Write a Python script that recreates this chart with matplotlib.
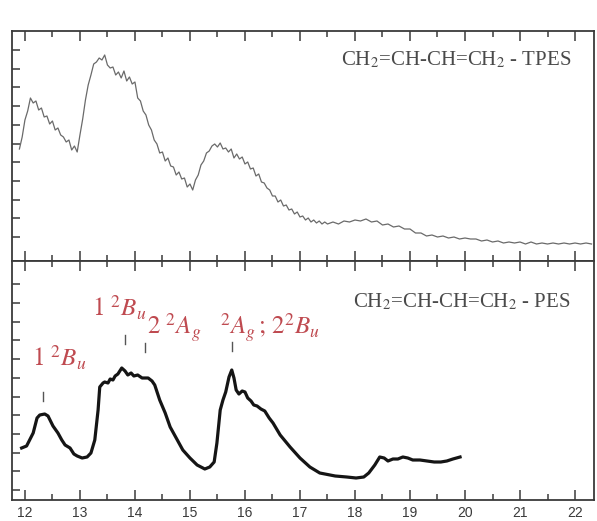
"""Butadiene TPES / PES comparison figure."""

import matplotlib.pyplot as plt
import numpy as np
from matplotlib.ticker import FixedLocator, MultipleLocator

plt.rcParams["mathtext.fontset"] = "stix"

# threshold photoelectron spectrum (arbitrary units)
tpes_ev = [
    11.90, 11.95, 12.00, 12.05, 12.10, 12.15, 12.20, 12.25, 12.30, 12.35,
    12.40, 12.45, 12.50, 12.55, 12.60, 12.65, 12.70, 12.75, 12.80, 12.85,
    12.90, 12.95, 13.00, 13.05, 13.10, 13.15, 13.20, 13.25, 13.30, 13.35,
    13.40, 13.45, 13.50, 13.55, 13.60, 13.65, 13.70, 13.75, 13.80, 13.85,
    13.90, 13.95, 14.00, 14.05, 14.10, 14.15, 14.20, 14.25, 14.30, 14.35,
    14.40, 14.45, 14.50, 14.55, 14.60, 14.65, 14.70, 14.75, 14.80, 14.85,
    14.90, 14.95, 15.00, 15.05, 15.10, 15.15, 15.20, 15.25, 15.30, 15.35,
    15.40, 15.45, 15.50, 15.55, 15.60, 15.65, 15.70, 15.75, 15.80, 15.85,
    15.90, 15.95, 16.00, 16.05, 16.10, 16.15, 16.20, 16.25, 16.30, 16.35,
    16.40, 16.45, 16.50, 16.55, 16.60, 16.65, 16.70, 16.75, 16.80, 16.85,
    16.90, 16.95, 17.00, 17.05, 17.10, 17.15, 17.20, 17.25, 17.30, 17.35,
    17.40, 17.45, 17.5, 17.6, 17.7, 17.8, 17.9,
    18.0, 18.1, 18.2, 18.3, 18.4, 18.5, 18.6, 18.7, 18.8, 18.9,
    19.0, 19.1, 19.2, 19.3, 19.4, 19.5, 19.6, 19.7, 19.8, 19.9,
    20.0, 20.1, 20.2, 20.3, 20.4, 20.5, 20.6, 20.7, 20.8, 20.9,
    21.0, 21.1, 21.2, 21.3, 21.4, 21.5, 21.6, 21.7, 21.8, 21.9,
    22.0, 22.1, 22.2, 22.3,
]
tpes_counts = [
    112, 124, 141, 150, 163, 158, 160, 151, 153, 144,
    145, 137, 140, 131, 133, 126, 124, 119, 121, 111,
    115, 109, 126, 142, 161, 176, 186, 197, 199, 203,
    201, 206, 196, 193, 194, 186, 189, 183, 190, 180,
    184, 177, 179, 163, 160, 150, 146, 136, 131, 121,
    117, 108, 109, 100, 103, 95, 94, 86, 89, 82,
    83, 74, 77, 71, 81, 86, 96, 100, 108, 110,
    115, 117, 114, 118, 112, 113, 109, 112, 103, 107,
    102, 104, 97, 99, 92, 93, 85, 87, 79, 78,
    73, 71, 65, 65, 59, 61, 55, 56, 51, 52,
    47, 49, 44, 45, 41, 43, 39, 41, 38, 40,
    37, 39, 37, 39, 37, 40, 39,
    41, 40, 42, 39, 40, 36, 37, 34, 35, 32,
    32, 28, 28, 25, 26, 24, 25, 23, 24, 22,
    23, 22, 22, 20, 21, 19, 20, 18, 19, 18,
    19, 17, 19, 17, 18, 17, 18, 17, 18, 17,
    18, 17, 18, 17,
]

# He I photoelectron spectrum (arbitrary units)
pes_ev = [
    11.94, 12.03, 12.15, 12.22, 12.27, 12.36, 12.42, 12.51, 12.60, 12.67,
    12.73, 12.82, 12.89, 12.95, 13.04, 13.13, 13.20, 13.27, 13.33, 13.36,
    13.42, 13.45, 13.51, 13.55, 13.60, 13.64, 13.69, 13.76, 13.82, 13.87,
    13.93, 13.98, 14.05, 14.13, 14.24, 14.31, 14.36, 14.45, 14.55, 14.64,
    14.75, 14.87, 15.00, 15.13, 15.27, 15.36, 15.44, 15.49, 15.55, 15.60,
    15.65, 15.71, 15.76, 15.80, 15.84, 15.89, 15.95, 16.00, 16.05, 16.11,
    16.16, 16.22, 16.29, 16.36, 16.44, 16.51, 16.64, 16.82, 17.00, 17.18,
    17.36, 17.64, 17.85, 18.02, 18.16, 18.25, 18.36, 18.45, 18.53, 18.60,
    18.69, 18.78, 18.87, 18.96, 19.05, 19.18, 19.31, 19.44, 19.56, 19.67,
    19.78, 19.91,
]
pes_counts = [
    52, 54, 67, 82, 85, 86, 84, 74, 67, 60,
    55, 52, 46, 44, 42, 43, 47, 60, 90, 113,
    117, 118, 117, 121, 120, 124, 126, 132, 129, 125,
    127, 124, 125, 122, 122, 119, 115, 100, 87, 73,
    62, 50, 42, 35, 31, 33, 38, 57, 90, 100,
    108, 123, 130, 122, 110, 106, 109, 108, 102, 99,
    95, 94, 91, 89, 82, 77, 65, 53, 42, 33,
    27, 24, 23, 22, 23, 27, 35, 43, 42, 39,
    41, 41, 43, 42, 40, 40, 39, 38, 38, 39,
    41, 43,
]

# ionic state assignments
state_labels = [r"$1\ ^2B_u$", r"$1\ ^2B_u$", r"$2\ ^2A_g$", r"$^2A_g\,;\,2^2B_u$"]
state_label_ev = [12.13, 13.22, 14.22, 15.54]
state_label_y = [133, 183, 165, 165]
state_tick_ev = [12.33, 13.82, 14.18, 15.76]
state_tick_y = [99, 156, 148, 149]

RED = "#bf4a50"
FRAME = "#3a3a3a"

fig = plt.figure(figsize=(5.97, 5.21), dpi=100)
ax_top = fig.add_axes([12 / 597, 1 - 261 / 521, 582 / 597, 230 / 521])
ax_bot = fig.add_axes([12 / 597, 1 - 500 / 521, 582 / 597, 239 / 521])

ax_top.plot(tpes_ev, tpes_counts, color="#6a6a6a", lw=0.9)
ax_bot.plot(pes_ev, pes_counts, color="#151515", lw=2.3, solid_joinstyle="round")

for ax in (ax_top, ax_bot):
    ax.set_xlim(11.765, 22.345)
    for side in ("left", "right", "top", "bottom"):
        ax.spines[side].set_color(FRAME)
        ax.spines[side].set_linewidth(1.3)
    ax.xaxis.set_major_locator(MultipleLocator(1))
    ax.xaxis.set_minor_locator(MultipleLocator(0.5))
    ax.tick_params(axis="both", which="both", direction="in", color=FRAME, width=1.1,
                   right=False, top=True)
    ax.tick_params(axis="x", which="major", length=7)
    ax.tick_params(axis="x", which="minor", length=4)
    ax.tick_params(axis="y", which="major", length=6, labelleft=False)

ax_top.set_ylim(0, 230)
ax_top.yaxis.set_major_locator(FixedLocator(np.arange(24, 215, 18.7)))
ax_top.tick_params(axis="x", labelbottom=False)

ax_bot.set_ylim(0, 239)
ax_bot.yaxis.set_major_locator(FixedLocator(np.arange(10, 220, 18.7)))
ax_bot.tick_params(axis="x", which="major", labelsize=10, labelcolor="#3a3a3a", pad=4.5)
ax_bot.set_xticklabels([f"{v:g}" for v in ax_bot.get_xticks()], fontfamily="Liberation Sans")

serif = {"family": "Liberation Serif", "size": 15, "color": "#4a4a4a"}
ax_top.text(21.94, 196, r"CH$_2$=CH-CH=CH$_2$ - TPES", ha="right", va="baseline", **serif)
ax_bot.text(21.91, 193, r"CH$_2$=CH-CH=CH$_2$ - PES", ha="right", va="baseline", **serif)

for label, ev, y in zip(state_labels, state_label_ev, state_label_y):
    ax_bot.text(ev, y, label, color=RED, fontsize=18, ha="left", va="baseline")
for ev, y in zip(state_tick_ev, state_tick_y):
    ax_bot.plot([ev, ev], [y, y + 9], color="#555555", lw=1.0)

fig.savefig("out.png", dpi=100, facecolor="white")
